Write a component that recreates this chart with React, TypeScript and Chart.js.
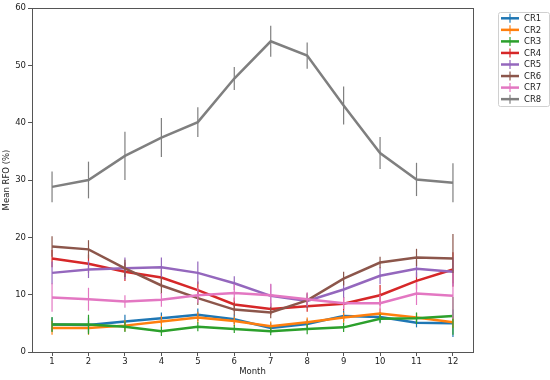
import React, { useEffect, useRef } from "react";
import { Chart, registerables } from "chart.js";

Chart.register(...registerables);

const months = [1, 2, 3, 4, 5, 6, 7, 8, 9, 10, 11, 12];
const seriesNames = ["CR1", "CR2", "CR3", "CR4", "CR5", "CR6", "CR7", "CR8"];
const seriesColors = ["#1f77b4", "#ff7f0e", "#2ca02c", "#d62728", "#9467bd", "#8c564b", "#e377c2", "#7f7f7f"];

const cr1 = [4.8, 4.7, 5.3, 5.9, 6.5, 5.7, 4.2, 4.9, 6.3, 6.1, 5.1, 5.0];
const cr2 = [4.2, 4.2, 4.6, 5.3, 6.0, 5.4, 4.5, 5.2, 6.0, 6.7, 6.0, 5.2];
const cr3 = [4.8, 4.8, 4.4, 3.6, 4.4, 4.0, 3.6, 4.0, 4.3, 5.8, 5.9, 6.3];
const cr4 = [16.3, 15.4, 14.0, 13.0, 10.8, 8.3, 7.5, 8.0, 8.4, 9.9, 12.4, 14.4];
const cr5 = [13.8, 14.4, 14.6, 14.8, 13.8, 12.0, 9.8, 8.9, 10.9, 13.3, 14.5, 14.0];
const cr6 = [18.4, 17.9, 14.6, 11.6, 9.4, 7.4, 6.9, 9.0, 12.8, 15.6, 16.5, 16.3];
const cr7 = [9.5, 9.2, 8.8, 9.1, 9.9, 10.3, 9.9, 9.2, 8.5, 8.5, 10.2, 9.8];
const cr8 = [28.8, 30.0, 34.2, 37.4, 40.1, 47.7, 54.2, 51.7, 43.0, 34.7, 30.1, 29.5];

const cr1Err = [1.2, 1.3, 1.2, 1.0, 1.1, 0.8, 0.8, 0.8, 0.9, 0.9, 0.8, 2.4];
const cr2Err = [1.2, 1.2, 1.0, 1.0, 1.0, 0.8, 0.8, 0.8, 0.9, 0.9, 0.8, 1.0];
const cr3Err = [1.3, 1.7, 0.9, 0.8, 0.8, 0.7, 0.7, 0.9, 0.8, 0.8, 1.0, 3.3];
const cr4Err = [1.5, 1.6, 1.6, 1.4, 1.5, 1.2, 1.0, 1.0, 1.2, 1.8, 1.5, 3.0];
const cr5Err = [2.0, 1.5, 1.9, 1.7, 2.0, 1.2, 2.0, 1.2, 1.5, 1.5, 1.5, 2.5];
const cr6Err = [1.8, 1.6, 1.5, 1.5, 1.2, 1.0, 1.0, 1.3, 1.2, 1.0, 1.5, 4.3];
const cr7Err = [2.5, 2.0, 1.1, 1.2, 1.3, 1.5, 2.0, 1.2, 1.0, 1.5, 2.0, 4.0];
const cr8Err = [2.7, 3.2, 4.2, 3.4, 2.6, 2.0, 2.7, 2.3, 3.3, 2.8, 2.9, 3.4];

const seriesValues = [cr1, cr2, cr3, cr4, cr5, cr6, cr7, cr8];
const seriesErrors = [cr1Err, cr2Err, cr3Err, cr4Err, cr5Err, cr6Err, cr7Err, cr8Err];

const yTicks = [0, 10, 20, 30, 40, 50, 60];
const xTitle = "Month";
const yTitle = "Mean RFO (%)";

const FONT = "'DejaVu Sans', sans-serif";
const TEXT_COLOR = "#222";
const SPINE_COLOR = "#555";

const errorBarPlugin = {
  id: "errorBars",
  afterDatasetDraw(chart: any, args: any) {
    const i = args.index;
    const errs = seriesErrors[i];
    const vals = seriesValues[i];
    const xs = chart.scales.x;
    const ys = chart.scales.y;
    const ctx = chart.ctx;
    ctx.save();
    ctx.strokeStyle = seriesColors[i];
    ctx.lineWidth = 1.2;
    months.forEach((m, k) => {
      const x = xs.getPixelForValue(m);
      ctx.beginPath();
      ctx.moveTo(x, ys.getPixelForValue(vals[k] - errs[k]));
      ctx.lineTo(x, ys.getPixelForValue(vals[k] + errs[k]));
      ctx.stroke();
    });
    ctx.restore();
  },
};

const framePlugin = {
  id: "frame",
  afterDatasetsDraw(chart: any) {
    const { left, right, top, bottom } = chart.chartArea;
    const ctx = chart.ctx;
    ctx.save();
    ctx.strokeStyle = SPINE_COLOR;
    ctx.lineWidth = 1;
    ctx.strokeRect(Math.round(left) + 0.5, Math.round(top) + 0.5, Math.round(right - left), Math.round(bottom - top));
    ctx.restore();
  },
};

const legendPlugin = {
  id: "customLegend",
  afterDraw(chart: any) {
    const ctx = chart.ctx;
    const bx = 498;
    const by = 12;
    const bw = 51;
    const step = 11.55;
    const bh = 94;
    ctx.save();
    ctx.fillStyle = "rgba(255,255,255,0.8)";
    ctx.strokeStyle = "#d0d0d0";
    ctx.lineWidth = 1;
    ctx.beginPath();
    const r = 2;
    ctx.moveTo(bx + r + 0.5, by + 0.5);
    ctx.lineTo(bx + bw - r + 0.5, by + 0.5);
    ctx.quadraticCurveTo(bx + bw + 0.5, by + 0.5, bx + bw + 0.5, by + r + 0.5);
    ctx.lineTo(bx + bw + 0.5, by + bh - r + 0.5);
    ctx.quadraticCurveTo(bx + bw + 0.5, by + bh + 0.5, bx + bw - r + 0.5, by + bh + 0.5);
    ctx.lineTo(bx + r + 0.5, by + bh + 0.5);
    ctx.quadraticCurveTo(bx + 0.5, by + bh + 0.5, bx + 0.5, by + bh - r + 0.5);
    ctx.lineTo(bx + 0.5, by + r + 0.5);
    ctx.quadraticCurveTo(bx + 0.5, by + 0.5, bx + r + 0.5, by + 0.5);
    ctx.fill();
    ctx.stroke();
    ctx.font = `8.5px ${FONT}`;
    ctx.textBaseline = "middle";
    ctx.textAlign = "left";
    seriesNames.forEach((name, i) => {
      const y = by + 6.3 + i * step;
      ctx.strokeStyle = seriesColors[i];
      ctx.lineWidth = 2.5;
      ctx.beginPath();
      ctx.moveTo(501, y);
      ctx.lineTo(519, y);
      ctx.stroke();
      ctx.lineWidth = 1.2;
      ctx.beginPath();
      ctx.moveTo(510, y - 4.5);
      ctx.lineTo(510, y + 4.5);
      ctx.stroke();
      ctx.fillStyle = TEXT_COLOR;
      ctx.fillText(name, 524, y + 0.5);
    });
    ctx.restore();
  },
};

export default function App() {
  const canvasRef = useRef<HTMLCanvasElement | null>(null);

  useEffect(() => {
    if (!canvasRef.current) return;
    const datasets = seriesNames.map((name, i) => ({
      label: name,
      data: months.map((m, k) => ({ x: m, y: seriesValues[i][k] })),
      borderColor: seriesColors[i],
      backgroundColor: seriesColors[i],
      borderWidth: 2.5,
      pointRadius: 0,
      tension: 0,
      fill: false,
      order: seriesNames.length - 1 - i,
    }));

    const chart = new Chart(canvasRef.current, {
      type: "line",
      data: { datasets },
      plugins: [errorBarPlugin, framePlugin, legendPlugin],
      options: {
        responsive: false,
        animation: false,
        layout: { padding: { left: 0, right: 77, top: 8, bottom: 0 } },
        plugins: {
          legend: { display: false },
          tooltip: { enabled: false },
        },
        scales: {
          x: {
            type: "linear",
            min: 0.45,
            max: 12.55,
            afterBuildTicks: (axis: any) => {
              axis.ticks = months.map((v) => ({ value: v }));
            },
            afterFit: (axis: any) => {
              axis.height = 28;
            },
            grid: {
              drawOnChartArea: false,
              drawTicks: true,
              tickLength: 4,
              color: SPINE_COLOR,
            },
            border: { display: true, color: SPINE_COLOR },
            ticks: {
              autoSkip: false,
              maxRotation: 0,
              padding: 1,
              color: TEXT_COLOR,
              font: { family: FONT, size: 8.5 },
              callback: (v: any) => String(v),
            },
            title: {
              display: true,
              text: xTitle,
              color: TEXT_COLOR,
              font: { family: FONT, size: 8.5 },
              padding: { top: 0, bottom: 3 },
            },
          },
          y: {
            type: "linear",
            min: 0,
            max: 60,
            afterBuildTicks: (axis: any) => {
              axis.ticks = yTicks.map((v) => ({ value: v }));
            },
            afterFit: (axis: any) => {
              axis.width = 32;
            },
            grid: {
              drawOnChartArea: false,
              drawTicks: true,
              tickLength: 4,
              color: SPINE_COLOR,
            },
            border: { display: true, color: SPINE_COLOR },
            ticks: {
              padding: 2,
              color: TEXT_COLOR,
              font: { family: FONT, size: 8.5 },
              callback: (v: any) => String(v),
            },
            title: {
              display: true,
              text: yTitle,
              color: TEXT_COLOR,
              font: { family: FONT, size: 8.5 },
              padding: { top: 2, bottom: 0 },
            },
          },
        },
      },
    });
    return () => chart.destroy();
  }, []);

  return (
    <div style={{ position: "absolute", left: 0, top: 0, width: 550, height: 380, background: "#fff" }}>
      <canvas ref={canvasRef} width={550} height={380} style={{ display: "block" }} />
    </div>
  );
}
